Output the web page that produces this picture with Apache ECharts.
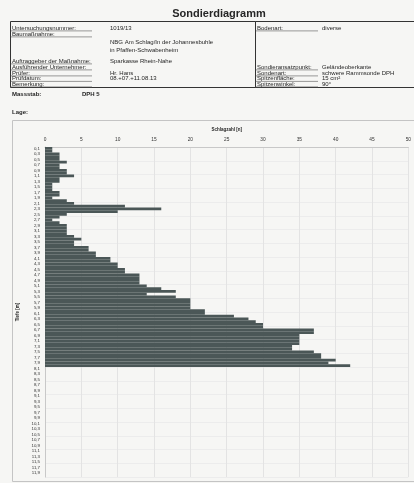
<!DOCTYPE html>
<html>
<head>
<meta charset="utf-8">
<script src="https://cdn.jsdelivr.net/npm/echarts@6/dist/echarts.min.js"></script>
<style>
  html, body { margin: 0; padding: 0; background: #f6f6f4; }
  #chart { width: 414px; height: 483px; }
</style>
</head>
<body>
<div id="chart"></div>
<script>
// Blow counts per 10 cm of penetration (DPH), depth 0,1 m .. 8,0 m
const blows = [
  1, 1, 2, 2, 2, 3, 2, 2, 3, 3,
  4, 2, 2, 1, 1, 1, 2, 2, 1, 3,
  4, 11, 16, 10, 3, 2, 1, 2, 3, 3,
  3, 3, 4, 5, 4, 4, 6, 6, 7, 7,
  9, 9, 10, 10, 11, 11, 13, 13, 13, 13,
  14, 16, 18, 14, 18, 20, 20, 20, 20, 22,
  22, 26, 28, 29, 30, 30, 37, 37, 35, 35,
  35, 35, 34, 34, 37, 38, 38, 40, 39, 42
];

// Depth axis: 0,1 m steps down to 12,0 m
const depthLabels = [];
for (let i = 1; i <= 120; i++) depthLabels.push((i / 10).toFixed(1).replace('.', ','));

// Blow-count axis ticks
const blowTicks = [0, 5, 10, 15, 20, 25, 30, 35, 40, 45, 50];

// Header fields
const leftRows = [
  ['Untersuchungsnummer:', '1019/13', 28],
  ['Baumaßnahme:', '', 34],
  ['', 'NBG Am Schlag/In der Johannesbuhle', 42],
  ['', 'in Pfaffen-Schwabenheim', 50],
  ['Auftraggeber der Maßnahme:', 'Sparkasse Rhein-Nahe', 61],
  ['Ausführender Unternehmer:', '', 67],
  ['Prüfer:', 'Hr. Hans', 73],
  ['Prüfdatum:', '08.+07.+11.08.13', 78.5],
  ['Bemerkung:', '', 84]
];
const rightRows = [
  ['Bodenart:', 'diverse', 28],
  ['Sondieransatzpunkt:', 'Geländeoberkante', 67],
  ['Sondenart:', 'schwere Rammsonde DPH', 73],
  ['Spitzenfläche:', '15 cm²', 78.5],
  ['Spitzenwinkel:', '90°', 84]
];

const FONT = '"Liberation Sans", Arial, sans-serif';
const INK = '#262626';

function text(x, y, s, size, bold, align) {
  return {
    type: 'text', x: x, y: y, silent: true,
    style: {
      text: s,
      font: (bold ? 'bold ' : '') + size + 'px ' + FONT,
      fill: INK,
      textAlign: align || 'left', align: align || 'left',
      textVerticalAlign: 'middle', verticalAlign: 'middle'
    }
  };
}
function line(x1, y1, x2, y2, color, w) {
  return { type: 'line', silent: true, shape: { x1: x1, y1: y1, x2: x2, y2: y2 },
           style: { stroke: color, lineWidth: w || 1 } };
}
function box(x, y, w, h, color) {
  return { type: 'rect', silent: true, shape: { x: x, y: y, width: w, height: h },
           style: { fill: 'none', stroke: color, lineWidth: 1 } };
}

const graphics = [];
graphics.push(text(219, 14, 'Sondierdiagramm', 11, true, 'center'));
graphics.push(box(10.5, 21.5, 245, 66, '#333'));
graphics.push(box(255.5, 21.5, 170, 66, '#333'));
leftRows.forEach(r => {
  if (r[0]) {
    graphics.push(text(12, r[2], r[0], 6, false));
    graphics.push(line(10.5, r[2] + 2.9, 92, r[2] + 2.9, '#555', 0.6));
  }
  if (r[1]) graphics.push(text(110, r[2], r[1], 6, false));
});
rightRows.forEach(r => {
  graphics.push(text(257, r[2], r[0], 6, false));
  graphics.push(line(255.5, r[2] + 2.9, 318, r[2] + 2.9, '#555', 0.6));
  graphics.push(text(322, r[2], r[1], 6, false));
});
graphics.push(text(12, 94.5, 'Massstab:', 6, true));
graphics.push(text(82, 94.5, 'DPH 5', 6, true));
graphics.push(text(12, 112, 'Lage:', 6, true));
graphics.push(box(12.5, 120.5, 410, 361, '#c4c4c4'));

const chart = echarts.init(document.getElementById('chart'));
chart.setOption({
  backgroundColor: '#f6f6f4',
  animation: false,
  textStyle: { fontFamily: FONT },
  graphic: graphics,
  grid: { left: 45, top: 147, width: 369, height: 330, containLabel: false },
  xAxis: {
    type: 'value', position: 'top',
    min: blowTicks[0], max: blowTicks[blowTicks.length - 1], interval: 5,
    name: 'Schlagzahl [n]', nameLocation: 'middle', nameGap: 13,
    nameTextStyle: { fontSize: 4.5, fontWeight: 'bold', color: INK },
    axisLine: { show: true, lineStyle: { color: '#c8c8c8', width: 1 } },
    axisTick: { show: false },
    axisLabel: { fontSize: 4.8, color: '#333', margin: 5 },
    splitLine: { show: true, lineStyle: { color: '#e3e3e3', width: 1 } }
  },
  yAxis: {
    type: 'category', inverse: true, data: depthLabels,
    name: 'Tiefe [m]', nameLocation: 'middle', nameGap: 19, nameRotate: 90,
    nameTextStyle: { fontSize: 4.5, fontWeight: 'bold', color: INK },
    axisLine: { show: true, lineStyle: { color: '#c8c8c8', width: 1 } },
    axisTick: { show: false },
    axisLabel: { interval: 1, fontSize: 4.4, color: '#333', margin: 5 },
    splitLine: { show: true, interval: 4, lineStyle: { color: '#ececec', width: 1 } }
  },
  series: [{
    type: 'bar',
    data: blows,
    barCategoryGap: '0%',
    itemStyle: { color: '#4b5757' },
    silent: true
  }]
});
</script>
</body>
</html>
